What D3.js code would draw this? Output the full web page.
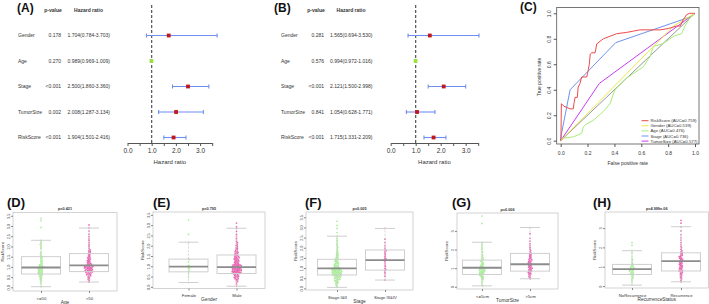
<!DOCTYPE html>
<html>
<head>
<meta charset="utf-8">
<script src="https://cdn.jsdelivr.net/npm/d3@7"></script>
<style>
  body { margin: 0; background: #fff; }
  svg { display: block; font-family: "Liberation Sans", Arial, sans-serif; }
</style>
</head>
<body>
<div id="fig"></div>
<script>
// ---- data: Cox regression (A univariate, B multivariate)
const coxVars = ["Gender", "Age", "Stage", "TumorSize", "RiskScore"];
const uniP = ["0.178", "0.270", "<0.001", "0.002", "<0.001"];
const uniHR = [1.704, 0.989, 2.500, 2.008, 1.904];
const uniLow = [0.784, 0.969, 1.860, 1.287, 1.501];
const uniHigh = [3.703, 1.009, 3.360, 3.134, 2.416];
const multiP = ["0.281", "0.576", "<0.001", "0.841", "<0.001"];
const multiHR = [1.565, 0.994, 2.121, 1.054, 1.715];
const multiLow = [0.694, 0.972, 1.500, 0.628, 1.331];
const multiHigh = [3.530, 1.016, 2.998, 1.771, 2.209];
const hrTicks = [0, 0.5, 1, 1.5, 2, 2.5, 3, 3.5];

// ---- data: ROC curves (C)
const rocNames = ["RiskScore (AUC=0.759)", "Gender (AUC=0.539)", "Age (AUC=0.476)", "Stage (AUC=0.736)", "TumorSize (AUC=0.577)"];
const rocRiskX = [0, 0.002, 0.005, 0.025, 0.07, 0.094, 0.1, 0.107, 0.124, 0.13, 0.144, 0.156, 0.194, 0.2, 0.206, 0.213, 0.22, 0.231, 0.256, 0.262, 0.268, 0.293, 0.318, 0.367, 0.417, 0.491, 0.54, 0.59, 0.74, 0.8, 0.864, 0.89, 0.913, 0.938, 0.96, 0.988, 1];
const rocRiskY = [0, 0.03, 0.29, 0.27, 0.25, 0.25, 0.3, 0.34, 0.34, 0.42, 0.45, 0.5, 0.5, 0.53, 0.56, 0.6, 0.68, 0.69, 0.69, 0.72, 0.76, 0.78, 0.8, 0.82, 0.84, 0.85, 0.86, 0.87, 0.87, 0.88, 0.9, 0.9, 0.95, 0.99, 1, 1, 1];
const rocGenderX = [0, 0.84, 1];
const rocGenderY = [0, 0.9, 1];
const rocAgeX = [0, 0.02, 0.094, 0.156, 0.169, 0.19, 0.243, 0.318, 0.367, 0.404, 0.49, 0.615, 0.665, 0.69, 0.76, 0.84, 0.9, 0.925, 0.96, 1];
const rocAgeY = [0, 0.02, 0.03, 0.058, 0.11, 0.13, 0.16, 0.23, 0.29, 0.4, 0.49, 0.58, 0.66, 0.74, 0.76, 0.82, 0.84, 0.9, 0.96, 1];
const rocStageX = [0, 0.005, 0.07, 0.41, 0.96, 1];
const rocStageY = [0, 0.05, 0.40, 0.77, 0.97, 1];
const rocSizeX = [0, 0.288, 1];
const rocSizeY = [0, 0.45, 1];
const rocTicks = [0, 0.2, 0.4, 0.6, 0.8, 1.0];

// ---- data: RiskScore by clinical group (D-H); box stats = [low whisker, q1, median, q3, high whisker]
const ageGroups = ["<=50", ">50"];
const ageLe50 = [3.37, 3.26, 2.93, 2.3, 2.22, 2.15, 2.1, 2.02, 1.95, 1.88, 1.75, 1.68, 1.62, 1.55, 1.5, 1.46, 1.42, 1.38, 1.33, 1.28, 1.25, 1.2, 1.16, 1.12, 1.1, 1.07, 1.04, 1.02, 1.0, 0.99, 0.97, 0.95, 0.93, 0.91, 0.89, 0.87, 0.85, 0.83, 0.8, 0.78, 0.76, 0.74, 0.72, 0.7, 0.68, 0.66, 0.64, 0.62, 0.59, 0.56, 0.53, 0.5, 0.46, 0.42, 0.38, 0.33, 0.27, 0.18, 0.03];
const ageGt50 = [3.05, 2.9, 2.75, 2.6, 2.48, 2.38, 2.3, 2.2, 2.12, 2.05, 1.98, 1.9, 1.85, 1.8, 1.77, 1.73, 1.7, 1.66, 1.62, 1.58, 1.54, 1.5, 1.47, 1.44, 1.41, 1.38, 1.35, 1.32, 1.3, 1.27, 1.25, 1.22, 1.2, 1.17, 1.15, 1.13, 1.11, 1.09, 1.07, 1.06, 1.05, 1.04, 1.03, 1.02, 1.0, 0.99, 0.98, 0.97, 0.96, 0.95, 0.94, 0.92, 0.91, 0.9, 0.88, 0.87, 0.86, 0.84, 0.83, 0.82, 0.8, 0.79, 0.78, 0.76, 0.75, 0.73, 0.72, 0.7, 0.68, 0.66, 0.64, 0.62, 0.6, 0.57, 0.54, 0.5, 0.46, 0.42, 0.38, 0.33, 0.26];
const ageStats = [[0.03, 0.65, 0.97, 1.5, 2.3], [0.26, 0.77, 1.07, 1.65, 2.9]];

const genderGroups = ["Female", "Male"];
const genderFemale = [3.25, 2.55, 2.17, 1.38, 1.32, 1.2, 1.05, 1.0, 0.97, 0.93, 0.88, 0.82, 0.75, 0.62, 0.48, 0.21];
const genderMale = [3.1, 2.92, 2.85, 2.7, 2.55, 2.45, 2.36, 2.28, 2.2, 2.15, 2.1, 2.04, 2.0, 1.96, 1.91, 1.88, 1.84, 1.8, 1.77, 1.73, 1.71, 1.68, 1.65, 1.62, 1.6, 1.57, 1.55, 1.52, 1.5, 1.48, 1.46, 1.44, 1.42, 1.4, 1.38, 1.36, 1.34, 1.32, 1.3, 1.28, 1.26, 1.24, 1.22, 1.2, 1.18, 1.16, 1.14, 1.12, 1.1, 1.09, 1.08, 1.07, 1.06, 1.05, 1.04, 1.03, 1.02, 1.01, 1.0, 0.99, 0.98, 0.97, 0.96, 0.96, 0.95, 0.94, 0.93, 0.92, 0.91, 0.9, 0.89, 0.88, 0.87, 0.86, 0.85, 0.84, 0.83, 0.82, 0.81, 0.8, 0.79, 0.78, 0.77, 0.76, 0.75, 0.74, 0.73, 0.72, 0.71, 0.7, 0.69, 0.68, 0.67, 0.66, 0.65, 0.64, 0.62, 0.6, 0.58, 0.56, 0.54, 0.52, 0.5, 0.48, 0.46, 0.44, 0.42, 0.4, 0.37, 0.34, 0.3, 0.26, 0.2, 0.12, 0.03];
const genderStats = [[0.21, 0.73, 0.98, 1.35, 2.17], [0.03, 0.65, 0.96, 1.55, 2.85]];

const stageGroups = ["Stage I&II", "Stage III&IV"];
const stageEarly = [3.3, 3.1, 2.95, 2.75, 2.57, 2.45, 2.38, 2.3, 2.22, 2.15, 2.08, 2.02, 1.96, 1.9, 1.85, 1.8, 1.75, 1.71, 1.67, 1.63, 1.6, 1.56, 1.52, 1.49, 1.46, 1.43, 1.4, 1.37, 1.35, 1.32, 1.3, 1.27, 1.24, 1.22, 1.2, 1.18, 1.15, 1.13, 1.11, 1.09, 1.07, 1.05, 1.04, 1.02, 1.01, 1.0, 0.99, 0.98, 0.97, 0.96, 0.95, 0.94, 0.93, 0.92, 0.91, 0.9, 0.89, 0.88, 0.87, 0.86, 0.85, 0.84, 0.83, 0.82, 0.81, 0.8, 0.79, 0.78, 0.77, 0.76, 0.75, 0.74, 0.73, 0.72, 0.71, 0.7, 0.69, 0.68, 0.67, 0.66, 0.65, 0.64, 0.63, 0.61, 0.6, 0.58, 0.57, 0.55, 0.53, 0.52, 0.5, 0.48, 0.46, 0.44, 0.42, 0.4, 0.38, 0.35, 0.33, 0.3, 0.27, 0.24, 0.2, 0.15, 0.1, 0.05];
const stageLate = [2.95, 2.42, 2.25, 2.1, 1.98, 1.9, 1.86, 1.8, 1.72, 1.65, 1.58, 1.5, 1.45, 1.42, 1.39, 1.33, 1.25, 1.15, 1.08, 0.98, 0.92, 0.88, 0.8, 0.72, 0.6, 0.41];
const stageStats = [[0.05, 0.66, 0.98, 1.43, 2.57], [0.41, 0.9, 1.39, 1.89, 2.95]];

const sizeGroups = ["<=5cm", ">5cm"];
const sizeSmall = [3.8, 3.4, 2.39, 2.3, 2.2, 2.1, 2.02, 1.92, 1.85, 1.75, 1.68, 1.6, 1.55, 1.5, 1.45, 1.42, 1.38, 1.34, 1.3, 1.26, 1.22, 1.18, 1.15, 1.12, 1.09, 1.06, 1.04, 1.02, 1.0, 0.99, 0.97, 0.95, 0.93, 0.91, 0.89, 0.87, 0.85, 0.83, 0.81, 0.79, 0.77, 0.75, 0.73, 0.71, 0.69, 0.67, 0.65, 0.63, 0.6, 0.57, 0.54, 0.5, 0.46, 0.42, 0.37, 0.3, 0.22, 0.12, 0.05];
const sizeLarge = [3.18, 2.85, 2.6, 2.45, 2.3, 2.2, 2.1, 2.02, 1.95, 1.88, 1.82, 1.78, 1.74, 1.7, 1.66, 1.62, 1.58, 1.54, 1.5, 1.47, 1.44, 1.4, 1.37, 1.34, 1.31, 1.28, 1.25, 1.22, 1.2, 1.17, 1.14, 1.11, 1.08, 1.05, 1.02, 1.0, 0.97, 0.94, 0.91, 0.88, 0.85, 0.82, 0.79, 0.76, 0.73, 0.7, 0.66, 0.62, 0.57, 0.52, 0.47, 0.43];
const sizeStats = [[0.05, 0.66, 1.02, 1.43, 2.39], [0.43, 0.84, 1.21, 1.79, 3.18]];

const recGroups = ["NoRecurrence", "Recurrence"];
const recNo = [2.25, 2.1, 1.83, 1.7, 1.55, 1.42, 1.35, 1.25, 1.18, 1.12, 1.08, 1.04, 1.0, 0.98, 0.95, 0.92, 0.9, 0.88, 0.86, 0.84, 0.82, 0.8, 0.77, 0.74, 0.71, 0.68, 0.65, 0.62, 0.6, 0.56, 0.52, 0.47, 0.42, 0.36, 0.28, 0.18, 0.05];
const recYes = [3.4, 3.25, 3.07, 2.85, 2.65, 2.5, 2.38, 2.25, 2.15, 2.05, 1.98, 1.9, 1.84, 1.78, 1.74, 1.7, 1.66, 1.62, 1.58, 1.55, 1.52, 1.48, 1.45, 1.42, 1.39, 1.36, 1.33, 1.3, 1.28, 1.25, 1.22, 1.19, 1.16, 1.13, 1.1, 1.07, 1.04, 1.01, 0.98, 0.95, 0.92, 0.89, 0.86, 0.83, 0.8, 0.78, 0.75, 0.72, 0.68, 0.64, 0.6, 0.56, 0.52, 0.47, 0.42, 0.37, 0.3, 0.22];
const recStats = [[0.05, 0.6, 0.88, 1.12, 1.83], [0.22, 0.78, 1.29, 1.72, 3.07]];

const halfTicks = [0, 0.5, 1, 1.5, 2, 2.5, 3, 3.5];
const unitTicks = [0, 1, 2, 3];

// ---- drawing
const svg = d3.select("#fig").append("svg")
    .attr("width", 709)
    .attr("height", 304);

const txtCol = "#333";

function tag(x, y, label, size) {
    svg.append("text")
        .attr("x", x).attr("y", y)
        .attr("font-size", size)
        .attr("font-weight", "bold")
        .attr("fill", "#111")
        .text(label);
}

// forest plot (A / B)
function forest(o, pv, hr, lo, hi) {
    const g = svg.append("g");
    tag(o.tagX, 12, o.label, 12);

    g.append("text").attr("x", o.pX - 8).attr("y", 11.5)
        .attr("text-anchor", "middle").attr("font-size", 5).attr("font-weight", "bold")
        .attr("fill", txtCol).text("p-value");
    g.append("text").attr("x", o.hrX + 21).attr("y", 11.5)
        .attr("text-anchor", "middle").attr("font-size", 5).attr("font-weight", "bold")
        .attr("fill", txtCol).text("Hazard ratio");

    const x = d3.scaleLinear().domain([0, 3.5]).range(o.xr);
    const y = d3.scalePoint().domain(coxVars).range([35.5, 137.5]);

    coxVars.forEach((v, i) => {
        g.append("text").attr("x", o.nameX).attr("y", y(v) + 1.8)
            .attr("font-size", 5).attr("fill", txtCol).text(v);
        g.append("text").attr("x", o.pX).attr("y", y(v) + 1.8)
            .attr("text-anchor", "end").attr("font-size", 5).attr("fill", txtCol).text(pv[i]);
        g.append("text").attr("x", o.hrX).attr("y", y(v) + 1.8)
            .attr("font-size", 5).attr("fill", txtCol)
            .text(hr[i].toFixed(3) + "(" + lo[i].toFixed(3) + "-" + hi[i].toFixed(3) + ")");
    });

    // reference line at HR = 1
    g.append("line")
        .attr("x1", x(1)).attr("x2", x(1))
        .attr("y1", 5).attr("y2", 143)
        .attr("stroke", "#444").attr("stroke-width", 1.1)
        .attr("stroke-dasharray", "3,2");

    const blue = "#6f8ef2";
    coxVars.forEach((v, i) => {
        const cy = y(v);
        g.append("line").attr("x1", x(lo[i])).attr("x2", x(hi[i]))
            .attr("y1", cy).attr("y2", cy).attr("stroke", blue).attr("stroke-width", 1.1);
        [lo[i], hi[i]].forEach(e => {
            g.append("line").attr("x1", x(e)).attr("x2", x(e))
                .attr("y1", cy - 2).attr("y2", cy + 2).attr("stroke", blue).attr("stroke-width", 1.1);
        });
        g.append("rect")
            .attr("x", x(hr[i]) - 1.9).attr("y", cy - 1.9)
            .attr("width", 3.8).attr("height", 3.8)
            .attr("fill", hr[i] > 1 ? "#c0161c" : "#9be23c");
    });

    const ax = g.append("g")
        .attr("transform", "translate(0,143)")
        .call(d3.axisBottom(x).tickValues(hrTicks).tickSize(3).tickSizeOuter(0)
            .tickFormat(d => d % 1 === 0 ? d.toFixed(1) : ""));
    ax.select(".domain").attr("stroke", "#555");
    ax.selectAll(".tick line").attr("stroke", "#555");
    ax.selectAll("text").attr("font-size", 6.5).attr("fill", txtCol).attr("dy", "0.6em");

    g.append("text").attr("x", (o.xr[0] + o.xr[1]) / 2).attr("y", 164)
        .attr("text-anchor", "middle").attr("font-size", 6).attr("fill", txtCol)
        .text("Hazard ratio");
}

forest({ label: "(A)", tagX: 17, nameX: 18, pX: 61, hrX: 67.5, xr: [127.5, 212.2] },
    uniP, uniHR, uniLow, uniHigh);
forest({ label: "(B)", tagX: 274, nameX: 281, pX: 324, hrX: 330, xr: [390.7, 478.2] },
    multiP, multiHR, multiLow, multiHigh);

// ROC (C)
(function () {
    tag(520, 11, "(C)", 12);
    const g = svg.append("g");
    const x = d3.scaleLinear().domain([0, 1]).range([560.7, 695]);
    const y = d3.scaleLinear().domain([0, 1]).range([140.7, 13.3]);

    g.append("rect").attr("x", 556.7).attr("y", 7.5)
        .attr("width", 699 - 556.7).attr("height", 144 - 7.5)
        .attr("fill", "none").attr("stroke", "#555").attr("stroke-width", 0.8);

    const xa = g.append("g").attr("transform", "translate(0,144)")
        .call(d3.axisBottom(x).tickValues(rocTicks).tickSize(3).tickFormat(d3.format(".1f")));
    xa.select(".domain").remove();
    xa.selectAll(".tick line").attr("stroke", "#555");
    xa.selectAll("text").attr("font-size", 5).attr("fill", txtCol).attr("dy", "0.9em");

    const ya = g.append("g").attr("transform", "translate(556.7,0)")
        .call(d3.axisLeft(y).tickValues(rocTicks).tickSize(3).tickFormat(d3.format(".1f")));
    ya.select(".domain").remove();
    ya.selectAll(".tick line").attr("stroke", "#555");
    ya.selectAll("text").attr("font-size", 5).attr("fill", txtCol)
        .attr("transform", "rotate(-90)").attr("x", 0).attr("y", -6).attr("dy", 0)
        .attr("text-anchor", "middle");

    g.append("text").attr("x", 627.8).attr("y", 164.5).attr("text-anchor", "middle")
        .attr("font-size", 5).attr("fill", txtCol).text("False positive rate");
    g.append("text").attr("transform", "translate(541,77) rotate(-90)")
        .attr("text-anchor", "middle").attr("font-size", 5).attr("fill", txtCol)
        .text("True positive rate");

    g.append("line").attr("x1", x(0)).attr("y1", y(0)).attr("x2", x(1)).attr("y2", y(1))
        .attr("stroke", "#8a8a8a").attr("stroke-width", 0.9);

    const curves = [
        [rocRiskX, rocRiskY, "#ee4a4a"],
        [rocGenderX, rocGenderY, "#e6e84c"],
        [rocAgeX, rocAgeY, "#a6ee78"],
        [rocStageX, rocStageY, "#6f92f0"],
        [rocSizeX, rocSizeY, "#c93df0"]
    ];
    const line = d3.line().x(d => x(d[0])).y(d => y(d[1]));
    // draw in reverse so RiskScore lies on top
    curves.slice().reverse().forEach(c => {
        g.append("path").datum(c[0].map((v, i) => [v, c[1][i]]))
            .attr("d", line).attr("fill", "none")
            .attr("stroke", c[2]).attr("stroke-width", 1);
    });

    rocNames.forEach((n, i) => {
        const ly = 120.7 + i * 5.1;
        g.append("line").attr("x1", 641.5).attr("x2", 648.5).attr("y1", ly).attr("y2", ly)
            .attr("stroke", curves[i][2]).attr("stroke-width", 1);
        g.append("text").attr("x", 650.5).attr("y", ly + 1.5)
            .attr("font-size", 4.3).attr("fill", txtCol).text(n);
    });
})();

// beeswarm offsets
function swarm(vals, y, d) {
    const out = [];
    vals.map(v => y(v)).sort((a, b) => a - b).forEach(py => {
        const near = out.filter(q => Math.abs(q.py - py) < d);
        const cands = [0];
        near.forEach(q => {
            const dx = Math.sqrt(d * d - (q.py - py) * (q.py - py));
            cands.push(q.dx + dx, q.dx - dx);
        });
        cands.sort((a, b) => Math.abs(a) - Math.abs(b));
        const dx = cands.find(c => near.every(q => Math.hypot(q.dx - c, q.py - py) >= d - 1e-6));
        out.push({ py: py, dx: dx });
    });
    return out;
}

const ptCols = ["#8fe67a", "#e2369a"];

function boxPanel(o) {
    tag(o.tagX, 207, o.label, 13);
    const g = svg.append("g");
    const [fx0, fx1, fy0, fy1] = o.frame;
    const x = d3.scaleLinear().domain([1, 2]).range(o.centers);
    const y = d3.scaleLinear().domain(o.yDom).range([fy1, fy0]);

    g.append("rect").attr("x", fx0).attr("y", fy0)
        .attr("width", fx1 - fx0).attr("height", fy1 - fy0)
        .attr("fill", "none").attr("stroke", "#c9c9c9").attr("stroke-width", 0.8);

    // points
    o.points.forEach((vals, gi) => {
        const cx = x(gi + 1);
        g.selectAll(null).data(swarm(vals, y, 1.45)).join("circle")
            .attr("cx", d => cx + d.dx).attr("cy", d => d.py).attr("r", 0.85)
            .attr("fill", ptCols[gi]).attr("fill-opacity", 0.75);
    });

    // boxes
    const hw = 19.5, cw = 10;
    o.stats.forEach((s, gi) => {
        const cx = x(gi + 1);
        const box = "#cfcfcf";
        g.append("line").attr("x1", cx).attr("x2", cx).attr("y1", y(s[3])).attr("y2", y(s[4]))
            .attr("stroke", box).attr("stroke-width", 0.8).attr("stroke-dasharray", "2,1.5");
        g.append("line").attr("x1", cx).attr("x2", cx).attr("y1", y(s[1])).attr("y2", y(s[0]))
            .attr("stroke", box).attr("stroke-width", 0.8).attr("stroke-dasharray", "2,1.5");
        [s[0], s[4]].forEach(w => {
            g.append("line").attr("x1", cx - cw).attr("x2", cx + cw).attr("y1", y(w)).attr("y2", y(w))
                .attr("stroke", box).attr("stroke-width", 1);
        });
        g.append("rect").attr("x", cx - hw).attr("y", y(s[3]))
            .attr("width", 2 * hw).attr("height", y(s[1]) - y(s[3]))
            .attr("fill", "none").attr("stroke", box).attr("stroke-width", 1);
        g.append("line").attr("x1", cx - hw).attr("x2", cx + hw).attr("y1", y(s[2])).attr("y2", y(s[2]))
            .attr("stroke", "#8c8c8c").attr("stroke-width", 1.8);
    });

    // y axis
    const ya = g.append("g").attr("transform", `translate(${fx0},0)`)
        .call(d3.axisLeft(y).tickValues(o.ticks).tickSize(2).tickFormat(o.fmt));
    ya.select(".domain").remove();
    ya.selectAll(".tick line").attr("stroke", "#888");
    ya.selectAll("text").attr("font-size", 3.8).attr("fill", txtCol)
        .attr("transform", "rotate(-90)").attr("x", 0).attr("y", -3.5).attr("dy", 0)
        .attr("text-anchor", "middle");
    g.append("text").attr("transform", `translate(${fx0 - 9.5},${(fy0 + fy1) / 2}) rotate(-90)`)
        .attr("text-anchor", "middle").attr("font-size", 4.3).attr("fill", txtCol).text("RiskScore");

    // x axis
    const xa = g.append("g").attr("transform", `translate(0,${fy1})`)
        .call(d3.axisBottom(x).tickValues([1, 2]).tickSize(2).tickFormat((d, i) => o.groups[i]));
    xa.select(".domain").remove();
    xa.selectAll(".tick line").attr("stroke", "#888");
    xa.selectAll("text").attr("font-size", 4.3).attr("fill", txtCol).attr("dy", "0.9em");
    g.append("text").attr("x", (fx0 + fx1) / 2).attr("y", fy1 + 12.5)
        .attr("text-anchor", "middle").attr("font-size", 4.8).attr("fill", txtCol).text(o.xlab);

    g.append("text").attr("x", (fx0 + fx1) / 2).attr("y", fy0 - 2.5)
        .attr("text-anchor", "middle").attr("font-size", 3.8).attr("font-weight", "bold")
        .attr("fill", txtCol).text(o.title);
}

const f1 = d3.format(".1f"), f0 = d3.format("d");

boxPanel({ label: "(D)", tagX: 7, frame: [13, 117, 212.5, 291], centers: [41, 89],
    yDom: [-0.18, 3.66], ticks: halfTicks, fmt: f1, title: "p=0.421",
    groups: ageGroups, xlab: "Age", points: [ageLe50, ageGt50], stats: ageStats });
boxPanel({ label: "(E)", tagX: 153, frame: [153, 265, 212, 288.5], centers: [188.5, 236.5],
    yDom: [-0.08, 3.64], ticks: halfTicks, fmt: f1, title: "p=0.795",
    groups: genderGroups, xlab: "Gender", points: [genderFemale, genderMale], stats: genderStats });
boxPanel({ label: "(F)", tagX: 305, frame: [306, 413, 212, 290], centers: [337, 385],
    yDom: [-0.08, 3.76], ticks: halfTicks, fmt: f1, title: "p=0.005",
    groups: stageGroups, xlab: "Stage", points: [stageEarly, stageLate], stats: stageStats });
boxPanel({ label: "(G)", tagX: 452, frame: [457, 558, 213, 289], centers: [482, 530],
    yDom: [-0.12, 3.96], ticks: unitTicks, fmt: f0, title: "p=0.006",
    groups: sizeGroups, xlab: "TumorSize", points: [sizeSmall, sizeLarge], stats: sizeStats });
boxPanel({ label: "(H)", tagX: 593, frame: [605, 708.5, 212, 288], centers: [632, 681],
    yDom: [-0.1, 3.83], ticks: unitTicks, fmt: f0, title: "p=4.999e-06",
    groups: recGroups, xlab: "RecurrenceStatus", points: [recNo, recYes], stats: recStats });
</script>
</body>
</html>
